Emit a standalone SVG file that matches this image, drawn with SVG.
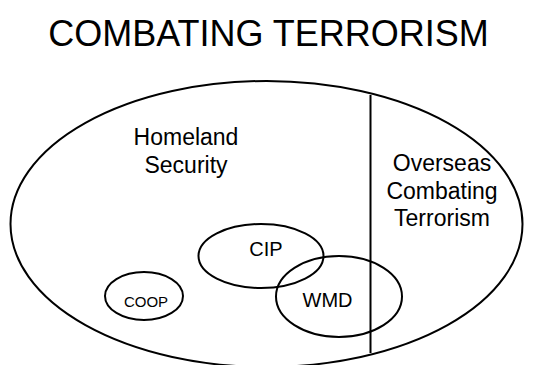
<svg xmlns="http://www.w3.org/2000/svg" width="535" height="365" viewBox="0 0 535 365">
<style>
.s{fill:none;stroke:#000;stroke-width:2}
text{font-family:"Liberation Sans",Arial,sans-serif;fill:#000;text-anchor:middle}
</style>
<rect width="535" height="365" fill="#fff"/>
<text x="268.5" y="46" font-size="36">COMBATING TERRORISM</text>
<g id="combating-terrorism">
<ellipse class="s" cx="266.5" cy="224" rx="256" ry="143"/>
</g>
<g id="divider">
<line class="s" x1="370.5" y1="95" x2="370.5" y2="353"/>
</g>
<g id="homeland-security">
<text x="186" y="145" font-size="23">Homeland</text>
<text x="186" y="173" font-size="23">Security</text>
</g>
<g id="overseas">
<text x="442" y="171" font-size="23">Overseas</text>
<text x="442" y="198.5" font-size="23">Combating</text>
<text x="442" y="226" font-size="23">Terrorism</text>
</g>
<g id="cip">
<ellipse class="s" cx="261" cy="256" rx="62.5" ry="32"/>
<text x="266" y="256" font-size="20">CIP</text>
</g>
<g id="wmd">
<ellipse class="s" cx="339" cy="296.5" rx="63" ry="40.5"/>
<text x="327.5" y="307" font-size="20">WMD</text>
</g>
<g id="coop">
<ellipse class="s" cx="144" cy="296" rx="39" ry="24"/>
<text x="146" y="307" font-size="15">COOP</text>
</g>
</svg>
